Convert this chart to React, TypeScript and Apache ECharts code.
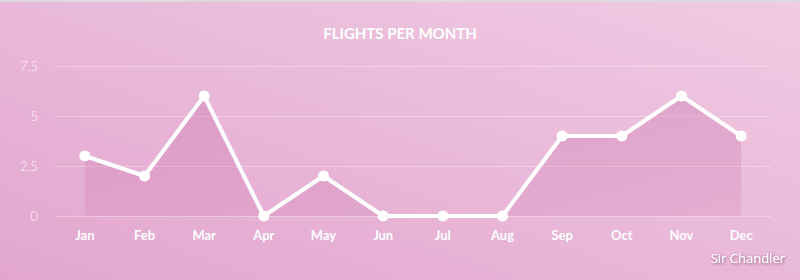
import React, { useEffect, useRef } from "react";
import * as echarts from "echarts";

const months = ["Jan", "Feb", "Mar", "Apr", "May", "Jun", "Jul", "Aug", "Sep", "Oct", "Nov", "Dec"];
const flights = [3, 2, 6, 0, 2, 0, 0, 0, 4, 4, 6, 4];
const yTicks = [0, 2.5, 5, 7.5];

export default function App() {
  const ref = useRef<HTMLDivElement>(null);
  useEffect(() => {
    document.body.style.margin = "0";
    if (!ref.current) return;
    const chart = echarts.init(ref.current, undefined, { renderer: "svg" });
    chart.setOption({
      animation: false,
      backgroundColor: new echarts.graphic.LinearGradient(0, 1, 1, 0, [
        { offset: 0, color: "#e2a6ce" },
        { offset: 1, color: "#f0cbe3" },
      ]),
      title: {
        text: "FLIGHTS PER MONTH",
        left: "center",
        top: 20,
        textStyle: { color: "#ffffff", fontFamily: "Lato", fontWeight: "bold", fontSize: 15 },
      },
      grid: { left: 55, right: 29, top: 66, bottom: 64 },
      xAxis: {
        type: "category",
        data: months,
        boundaryGap: true,
        axisLine: { show: false },
        axisTick: { show: false },
        axisLabel: { color: "#ffffff", fontFamily: "Lato", fontWeight: "bold", fontSize: 13, margin: 12 },
      },
      yAxis: {
        type: "value",
        min: 0,
        max: 7.5,
        interval: 2.5,
        axisLine: { show: false },
        axisTick: { show: false },
        axisLabel: {
          color: "rgba(255,255,255,0.85)",
          fontFamily: "Lato",
          fontWeight: 300,
          fontSize: 13,
          margin: 17,
          formatter: (v: number) => (yTicks.includes(v) ? String(v) : ""),
        },
        splitLine: { lineStyle: { color: "rgba(255,255,255,0.3)", width: 1 } },
      },
      series: [
        {
          type: "line",
          data: flights,
          symbol: "circle",
          symbolSize: 11,
          itemStyle: { color: "#ffffff" },
          lineStyle: { color: "#ffffff", width: 4 },
          areaStyle: {
            color: new echarts.graphic.LinearGradient(0, 0, 0, 1, [
              { offset: 0, color: "rgba(195,100,160,0.45)" },
              { offset: 1, color: "rgba(195,100,160,0.22)" },
            ]),
          },
        },
      ],
      graphic: [
        {
          type: "text",
          right: 15,
          top: 251,
          style: {
            text: "Sir Chandler",
            fill: "#ffffff",
            fontFamily: "Open Sans",
            fontSize: 13,
            textShadowColor: "rgba(80,30,60,0.6)",
            textShadowBlur: 3,
            textShadowOffsetX: 1,
            textShadowOffsetY: 1,
          },
        },
        {
          type: "rect",
          left: 0,
          top: 0,
          shape: { width: 800, height: 2 },
          style: { fill: "#dcdadf" },
        },
      ],
    });
    return () => chart.dispose();
  }, []);
  return <div ref={ref} style={{ width: 800, height: 280 }} />;
}
